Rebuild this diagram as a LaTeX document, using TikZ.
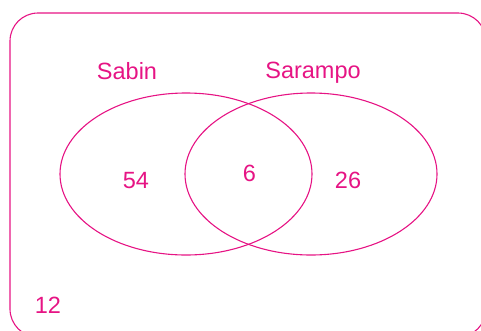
\documentclass[tikz,border=0pt]{standalone}
\usepackage{fontspec}
\setmainfont{Liberation Sans}
\usepackage{tikz}
\definecolor{venn}{RGB}{230,20,132}
\newcommand{\drawvenn}{\draw[line width=1.1pt, venn]}
\newcommand{\vennlabel}[4]{\node[anchor=base, text=venn, inner sep=0pt, font=\fontsize{23.5}{28}\selectfont] (#1) at (#3, #4) {#2};}

\begin{document}
\begin{tikzpicture}[x=1pt, y=-1pt]
\useasboundingbox (0,0) rectangle (481,330);
\begin{scope}
    \clip (0,0) rectangle (481,330);
    \drawvenn[rounded corners=28pt] (10,13) rectangle (486,337);
\end{scope}
    \drawvenn (186,174) ellipse [x radius=126, y radius=81];
    \drawvenn (311,174) ellipse [x radius=126, y radius=81];
\vennlabel{sabin}{Sabin}{127}{79}\vennlabel{sarampo}{Sarampo}{313}{78}\vennlabel{soSabin}{54}{136}{188}\vennlabel{ambas}{6}{249.5}{181}\vennlabel{soSarampo}{26}{348}{188}\vennlabel{nenhuma}{12}{48}{313}\end{tikzpicture}
\end{document}
